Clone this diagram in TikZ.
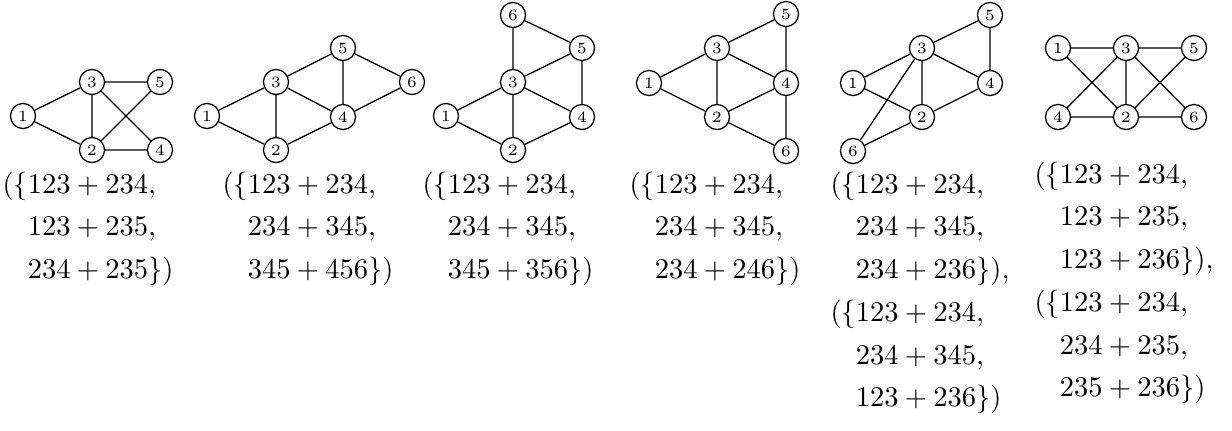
\documentclass[tikz,border=0pt]{standalone}
\usepackage{amsmath}
\begin{document}
\begin{tikzpicture}[x=0.3509pt,y=-0.3509pt,
  vtx/.style={circle,draw,line width=0.45pt,minimum size=8.8pt,inner sep=0pt,
              font=\fontsize{5.5}{6}\selectfont},
  edge/.style={line width=0.45pt},
  lbl/.style={anchor=base west,inner sep=0pt}]
\useasboundingbox (0,0) rectangle (1232,430);

% graph 1
\node[vtx] (a1) at (23,116) {1};
\node[vtx] (a3) at (92,82) {3};
\node[vtx] (a5) at (160,82) {5};
\node[vtx] (a2) at (92,150) {2};
\node[vtx] (a4) at (160,150) {4};
\draw[edge] (a1)--(a3) (a1)--(a2) (a3)--(a5) (a3)--(a2) (a3)--(a4)
            (a2)--(a5) (a2)--(a4);

% graph 2
\node[vtx] (b1) at (207,116) {1};
\node[vtx] (b3) at (276,82) {3};
\node[vtx] (b5) at (343,48) {5};
\node[vtx] (b6) at (412,82) {6};
\node[vtx] (b4) at (343,117) {4};
\node[vtx] (b2) at (276,150) {2};
\draw[edge] (b1)--(b3) (b1)--(b2) (b3)--(b2) (b3)--(b5) (b3)--(b4)
            (b5)--(b4) (b5)--(b6) (b6)--(b4) (b2)--(b4);

% graph 3
\node[vtx] (c6) at (513,15) {6};
\node[vtx] (c5) at (582,48) {5};
\node[vtx] (c3) at (513,82) {3};
\node[vtx] (c1) at (446,116) {1};
\node[vtx] (c4) at (582,117) {4};
\node[vtx] (c2) at (513,150) {2};
\draw[edge] (c6)--(c3) (c6)--(c5) (c5)--(c3) (c5)--(c4) (c3)--(c1)
            (c3)--(c2) (c3)--(c4) (c1)--(c2) (c2)--(c4);

% graph 4
\node[vtx] (d5) at (786,14) {5};
\node[vtx] (d3) at (717,48) {3};
\node[vtx] (d1) at (649,83) {1};
\node[vtx] (d4) at (786,83) {4};
\node[vtx] (d2) at (717,117) {2};
\node[vtx] (d6) at (786,151) {6};
\draw[edge] (d5)--(d3) (d5)--(d4) (d3)--(d1) (d3)--(d2) (d3)--(d4)
            (d1)--(d2) (d2)--(d4) (d2)--(d6) (d4)--(d6);

% graph 5
\node[vtx] (e5) at (990,15) {5};
\node[vtx] (e3) at (922,48) {3};
\node[vtx] (e1) at (853,83) {1};
\node[vtx] (e4) at (990,83) {4};
\node[vtx] (e2) at (922,117) {2};
\node[vtx] (e6) at (853,151) {6};
\draw[edge] (e5)--(e3) (e5)--(e4) (e3)--(e1) (e3)--(e4) (e3)--(e2)
            (e3)--(e6) (e1)--(e2) (e2)--(e4) (e2)--(e6);

% graph 6
\node[vtx] (f1) at (1058,48) {1};
\node[vtx] (f3) at (1126,48) {3};
\node[vtx] (f5) at (1194,48) {5};
\node[vtx] (f4) at (1058,117) {4};
\node[vtx] (f2) at (1126,117) {2};
\node[vtx] (f6) at (1194,117) {6};
\draw[edge] (f1)--(f3) (f3)--(f5) (f1)--(f2) (f4)--(f3) (f3)--(f2)
            (f3)--(f6) (f2)--(f5) (f4)--(f2) (f2)--(f6);

% edge-set labels
\node[lbl] (t1) at (2,193)
  {$\begin{aligned}[t](\{&123+234,\\&123+235,\\&234+235\})\end{aligned}$};
\node[lbl] (t2) at (222,193)
  {$\begin{aligned}[t](\{&123+234,\\&234+345,\\&345+456\})\end{aligned}$};
\node[lbl] (t3) at (422,193)
  {$\begin{aligned}[t](\{&123+234,\\&234+345,\\&345+356\})\end{aligned}$};
\node[lbl] (t4) at (629,193)
  {$\begin{aligned}[t](\{&123+234,\\&234+345,\\&234+246\})\end{aligned}$};
\node[lbl] (t5) at (830,193)
  {$\begin{aligned}[t](\{&123+234,\\&234+345,\\&234+236\}),\\
    (\{&123+234,\\&234+345,\\&123+236\})\end{aligned}$};
\node[lbl] (t6) at (1034,183)
  {$\begin{aligned}[t](\{&123+234,\\&123+235,\\&123+236\}),\\
    (\{&123+234,\\&234+235,\\&235+236\})\end{aligned}$};
\end{tikzpicture}
\end{document}
